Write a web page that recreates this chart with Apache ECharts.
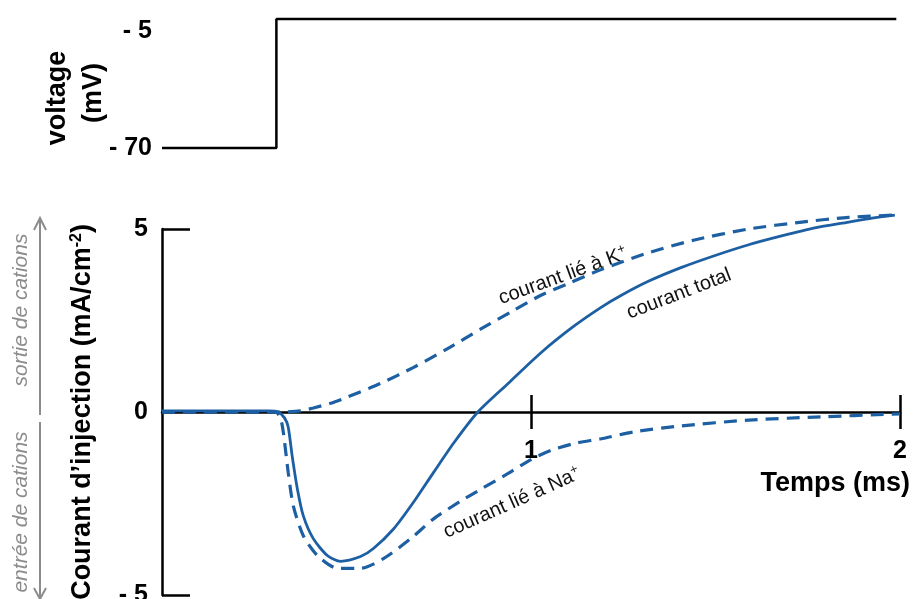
<!DOCTYPE html>
<html>
<head>
<meta charset="utf-8">
<script src="https://cdn.jsdelivr.net/npm/echarts@6/dist/echarts.min.js"></script>
<style>
  html, body { margin: 0; padding: 0; background: #fff; }
  #chart { width: 916px; height: 599px; }
</style>
</head>
<body>
<div id="chart"></div>
<script>
// voltage step (mV)
const voltTime = [0, 0.31, 0.31, 1.99];
const voltValue = [-70, -70, -5, -5];

// courant total (mA/cm2)
const tTotal = [0, 0.29, 0.315, 0.332, 0.342, 0.353, 0.367, 0.383, 0.41, 0.448, 0.484, 0.538, 0.573, 0.628, 0.682, 0.736, 0.791, 0.856, 0.938, 1.027, 1.117, 1.19, 1.245, 1.318, 1.408, 1.497, 1.59, 1.679, 1.769, 1.861, 1.924, 1.986];
const iTotal = [0.03, 0.03, 0, -0.16, -0.41, -1.22, -2.11, -2.84, -3.46, -3.92, -4.08, -3.95, -3.73, -3.19, -2.46, -1.65, -0.84, 0, 0.78, 1.62, 2.35, 2.86, 3.19, 3.57, 3.95, 4.27, 4.57, 4.81, 5.03, 5.19, 5.3, 5.38];

// courant lié à K+
const tK = [0, 0.321, 0.375, 0.41, 0.457, 0.503, 0.592, 0.682, 0.774, 0.864, 0.954, 1.027, 1.101, 1.19, 1.318, 1.443, 1.59, 1.734, 1.861, 1.986];
const iK = [0, 0, 0.03, 0.11, 0.24, 0.41, 0.78, 1.22, 1.73, 2.27, 2.78, 3.19, 3.51, 3.89, 4.35, 4.7, 5.0, 5.19, 5.32, 5.38];

// courant lié à Na+
const tNa = [0, 0.307, 0.321, 0.329, 0.342, 0.356, 0.383, 0.421, 0.476, 0.538, 0.601, 0.674, 0.736, 0.81, 0.864, 0.938, 1.0, 1.054, 1.117, 1.19, 1.28, 1.408, 1.59, 1.769, 2.0];
const iNa = [0, 0, -0.16, -0.57, -1.65, -2.57, -3.38, -3.92, -4.27, -4.27, -4.0, -3.46, -2.92, -2.43, -2.11, -1.68, -1.3, -1.05, -0.86, -0.73, -0.54, -0.38, -0.22, -0.14, -0.05];

const voltTicks = [-70, -5];
const currentTicks = [-5, 0, 5];
const timeTicks = [1, 2];

const zip = (a, b) => a.map((v, i) => [v, b[i]]);

const FONT = "'Liberation Sans', Arial, sans-serif";
const BLUE = "#1d5fa3";

const chart = echarts.init(document.getElementById("chart"), null, { renderer: "canvas" });

const boldLabel = { color: "#000", fontFamily: FONT, fontWeight: "bold", fontSize: 25 };
const tickStyle = { color: "#000", width: 2.5 };

const option = {
  animation: false,
  backgroundColor: "#fff",
  grid: [
    { left: 162, width: 738, top: 19, height: 129, outerBoundsMode: "none" },
    { left: 162, width: 738, top: 229, height: 366, outerBoundsMode: "none" },
    // upper half of the current panel, only used to hang the time labels under the zero line
    { left: 162, width: 738, top: 229, height: 183, outerBoundsMode: "none" },
  ],
  xAxis: [
    { gridIndex: 0, type: "value", min: 0, max: 2, show: false },
    {
      gridIndex: 1, type: "value", min: 0, max: 2,
      axisLine: { onZero: true, onZeroAxisIndex: 1, lineStyle: tickStyle },
      axisTick: { customValues: timeTicks, length: 17, lineStyle: tickStyle },
      axisLabel: { show: false },
      splitLine: { show: false },
    },
    {
      gridIndex: 1, type: "value", min: 0, max: 2, position: "bottom",
      axisLine: { show: false, onZero: true, onZeroAxisIndex: 1 },
      axisTick: { customValues: timeTicks, inside: true, length: 17, lineStyle: tickStyle },
      axisLabel: { show: false },
      splitLine: { show: false },
    },
    {
      gridIndex: 2, type: "value", min: 0, max: 2, position: "bottom",
      axisLine: { show: false, onZero: false },
      axisTick: { show: false },
      axisLabel: Object.assign({ customValues: timeTicks, margin: 27 }, boldLabel),
      splitLine: { show: false },
    },
  ],
  yAxis: [
    {
      gridIndex: 0, type: "value", min: -70, max: -5,
      axisLine: { show: false },
      axisTick: { show: false },
      axisLabel: Object.assign({
        customValues: voltTicks, margin: 10, verticalAlignMaxLabel: "top",
        formatter: (v) => "- " + Math.abs(v),
      }, boldLabel),
      splitLine: { show: false },
    },
    {
      gridIndex: 1, type: "value", min: -5, max: 5,
      axisLine: { show: true, onZero: false, lineStyle: tickStyle },
      axisTick: { show: true, customValues: [-5, 5], inside: true, length: 28, lineStyle: tickStyle },
      axisLabel: Object.assign({
        customValues: currentTicks, margin: 14,
        formatter: (v) => (v < 0 ? "- " + Math.abs(v) : String(v)),
      }, boldLabel),
      splitLine: { show: false },
    },
    { gridIndex: 2, type: "value", min: 0, max: 5, show: false },
  ],
  series: [
    {
      name: "voltage", type: "line", xAxisIndex: 0, yAxisIndex: 0,
      data: zip(voltTime, voltValue), symbol: "none", clip: false,
      lineStyle: { color: "#000", width: 2.5 },
    },
    {
      name: "courant total", type: "line", xAxisIndex: 1, yAxisIndex: 1,
      data: zip(tTotal, iTotal), symbol: "none", smooth: 0.25, clip: false,
      lineStyle: { color: BLUE, width: 2.8 }, z: 3,
    },
    {
      name: "courant lié à K+", type: "line", xAxisIndex: 1, yAxisIndex: 1,
      data: zip(tK, iK), symbol: "none", smooth: 0.25, clip: false,
      lineStyle: { color: BLUE, width: 3.2, type: [13, 8] }, z: 3,
    },
    {
      name: "courant lié à Na+", type: "line", xAxisIndex: 1, yAxisIndex: 1,
      data: zip(tNa, iNa), symbol: "none", smooth: 0.25, clip: false,
      lineStyle: { color: BLUE, width: 3.2, type: [13, 8] }, z: 3,
    },
  ],
  graphic: [
    // voltage axis title
    { type: "text", x: 58, y: 98, rotation: Math.PI / 2,
      style: { text: "voltage", fill: "#000", font: "bold 27px " + FONT, align: "center", verticalAlign: "middle" } },
    { type: "text", x: 94, y: 93, rotation: Math.PI / 2,
      style: { text: "(mV)", fill: "#000", font: "bold 27px " + FONT, align: "center", verticalAlign: "middle" } },
    // current axis title
    { type: "text", x: 83, y: 412, rotation: Math.PI / 2,
      style: {
        text: "{a|Courant d’injection (mA/cm}{s|-2}{a|)}",
        align: "center", verticalAlign: "middle",
        rich: {
          a: { fill: "#000", fontFamily: FONT, fontWeight: "bold", fontSize: 27 },
          s: { fill: "#000", fontFamily: FONT, fontWeight: "bold", fontSize: 16, padding: [0, 0, 12, 0] },
        },
      } },
    // direction arrows
    { type: "line", shape: { x1: 40, y1: 220, x2: 40, y2: 415 }, style: { stroke: "#8c8c8c", lineWidth: 2 } },
    { type: "polyline", shape: { points: [[34, 230], [40, 218], [46, 230]] }, style: { stroke: "#8c8c8c", lineWidth: 2, fill: null } },
    { type: "line", shape: { x1: 40, y1: 422, x2: 40, y2: 598 }, style: { stroke: "#8c8c8c", lineWidth: 2 } },
    { type: "polyline", shape: { points: [[34, 588], [40, 599], [46, 588]] }, style: { stroke: "#8c8c8c", lineWidth: 2, fill: null } },
    { type: "text", x: 21, y: 310, rotation: Math.PI / 2,
      style: { text: "sortie de cations", fill: "#8c8c8c", font: "italic 21px " + FONT, align: "center", verticalAlign: "middle" } },
    { type: "text", x: 21, y: 512, rotation: Math.PI / 2,
      style: { text: "entrée de cations", fill: "#8c8c8c", font: "italic 21px " + FONT, align: "center", verticalAlign: "middle" } },
    // x axis title
    { type: "text", x: 910, y: 484,
      style: { text: "Temps (ms)", fill: "#000", font: "bold 27px " + FONT, align: "right", verticalAlign: "middle" } },
    // curve labels
    { type: "text", x: 563, y: 276, rotation: 20 * Math.PI / 180,
      style: { text: "{a|courant lié à K}{s|+}", align: "center", verticalAlign: "middle",
        rich: { a: { fill: "#111", fontFamily: FONT, fontSize: 20 }, s: { fill: "#111", fontFamily: FONT, fontSize: 13, padding: [0, 0, 10, 0] } } } },
    { type: "text", x: 679, y: 294, rotation: 21 * Math.PI / 180,
      style: { text: "courant total", fill: "#111", font: "20px " + FONT, align: "center", verticalAlign: "middle" } },
    { type: "text", x: 512, y: 503, rotation: 24 * Math.PI / 180,
      style: { text: "{a|courant lié à Na}{s|+}", align: "center", verticalAlign: "middle",
        rich: { a: { fill: "#111", fontFamily: FONT, fontSize: 20 }, s: { fill: "#111", fontFamily: FONT, fontSize: 13, padding: [0, 0, 10, 0] } } } },
  ],
};

chart.setOption(option);
</script>
</body>
</html>
